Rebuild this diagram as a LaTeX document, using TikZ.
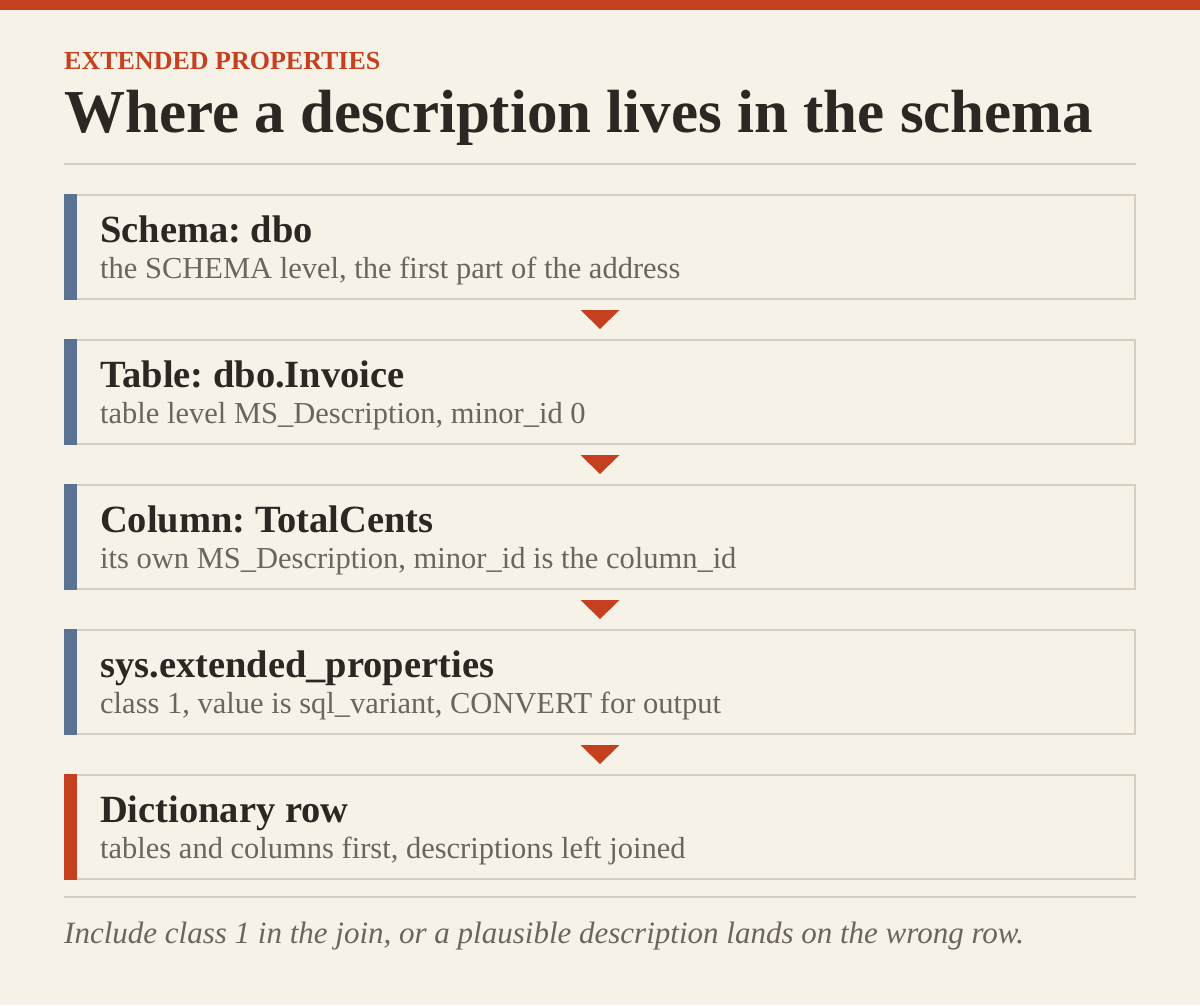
\documentclass[tikz,border=0pt]{standalone}
\usepackage{fontspec}
\setmainfont{Liberation Serif}
\frenchspacing
\usetikzlibrary{positioning,calc}
\definecolor{paper}{HTML}{F7F2E8}
\definecolor{rust}{HTML}{C4401E}
\definecolor{slate}{HTML}{5A7391}
\definecolor{hair}{HTML}{D6CEC2}
\definecolor{ink}{HTML}{2B2722}
\definecolor{mute}{HTML}{6B655C}

\begin{document}
\begin{tikzpicture}[x=1pt,y=-1pt,
    level/.style={draw=hair,line width=2pt,fill=paper,minimum width=1070pt,
      minimum height=104pt,inner sep=0pt,outer sep=0pt},
    lvltitle/.style={anchor=base west,inner sep=0pt,text=ink,
      font=\fontsize{38.5}{44}\selectfont\bfseries},
    lvlnote/.style={anchor=base west,inner sep=0pt,text=mute,
      font=\fontsize{30.5}{36}\selectfont},
    flow/.style={fill=rust}]
    \useasboundingbox (0,0) rectangle (1200,1005);
    \fill[paper] (0,0) rectangle (1200,1005);
    \fill[rust] (0,0) rectangle (1200,10);

    % heading
    \node[anchor=base west,inner sep=0pt,text=rust,font=\fontsize{26}{30}\selectfont\bfseries] (kicker) at (64,69) {EXTENDED PROPERTIES};
    \node[anchor=base west,inner sep=0pt,text=ink,font=\fontsize{61}{70}\selectfont\bfseries] (headline) at (64,132) {Where a description lives in the schema};
    \draw[hair,line width=2pt] (64,164) -- (1136,164);

    % levels
    \node[level] (schema) at (600,247) {};
    \node[level] (table) at (600,392) {};
    \node[level] (column) at (600,537) {};
    \node[level] (extprop) at (600,682) {};
    \node[level] (dictrow) at (600,827) {};

    \fill[slate] ($(schema.north west)+(-1,-1)$) rectangle ($(schema.south west)+(12,1)$);
    \fill[slate] ($(table.north west)+(-1,-1)$) rectangle ($(table.south west)+(12,1)$);
    \fill[slate] ($(column.north west)+(-1,-1)$) rectangle ($(column.south west)+(12,1)$);
    \fill[slate] ($(extprop.north west)+(-1,-1)$) rectangle ($(extprop.south west)+(12,1)$);
    \fill[rust] ($(dictrow.north west)+(-1,-1)$) rectangle ($(dictrow.south west)+(12,1)$);

    \node[lvltitle] at ($(schema.north west)+(35,47)$) {Schema: dbo};
    \node[lvlnote] at ($(schema.north west)+(35,83)$) {the SCHEMA level, the first part of the address};
    \node[lvltitle] at ($(table.north west)+(35,47)$) {Table: dbo.Invoice};
    \node[lvlnote] at ($(table.north west)+(35,83)$) {table level MS\_Description, minor\_id 0};
    \node[lvltitle] at ($(column.north west)+(35,47)$) {Column: TotalCents};
    \node[lvlnote] at ($(column.north west)+(35,83)$) {its own MS\_Description, minor\_id is the column\_id};
    \node[lvltitle] at ($(extprop.north west)+(35,47)$) {sys.extended\_properties};
    \node[lvlnote] at ($(extprop.north west)+(35,83)$) {class 1, value is sql\_variant, CONVERT for output};
    \node[lvltitle] at ($(dictrow.north west)+(35,47)$) {Dictionary row};
    \node[lvlnote] at ($(dictrow.north west)+(35,83)$) {tables and columns first, descriptions left joined};

    % arrows between levels
    \coordinate (g1) at ($(schema.south)!0.5!(table.north)$);
    \coordinate (g2) at ($(table.south)!0.5!(column.north)$);
    \coordinate (g3) at ($(column.south)!0.5!(extprop.north)$);
    \coordinate (g4) at ($(extprop.south)!0.5!(dictrow.north)$);
    \fill[flow] ($(g1)+(-19.5,-9.5)$) -- ++(39,0) -- ++(-19.5,19) -- cycle;
    \fill[flow] ($(g2)+(-19.5,-9.5)$) -- ++(39,0) -- ++(-19.5,19) -- cycle;
    \fill[flow] ($(g3)+(-19.5,-9.5)$) -- ++(39,0) -- ++(-19.5,19) -- cycle;
    \fill[flow] ($(g4)+(-19.5,-9.5)$) -- ++(39,0) -- ++(-19.5,19) -- cycle;

    % footnote
    \draw[hair,line width=2pt] (64,897) -- (1136,897);
    \node[anchor=base west,inner sep=0pt,text=mute,font=\fontsize{31}{36}\selectfont\itshape] (note) at (64,943) {Include class 1 in the join, or a plausible description lands on the wrong row.};
  \end{tikzpicture}
\end{document}
